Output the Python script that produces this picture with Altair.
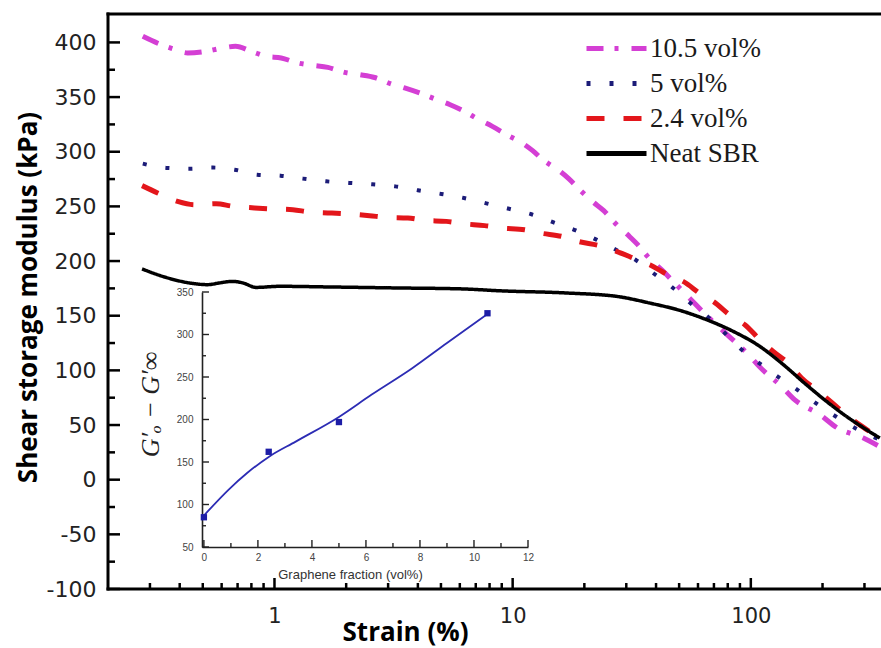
import altair as alt
import pandas as pd

# ---- main panel: shear storage modulus vs strain ----
SERIES = ["10.5 vol%", "5 vol%", "2.4 vol%", "Neat SBR"]
COLORS = ["#d43fd4", "#1c1c78", "#e3161b", "#000000"]
DASHES = [[17, 11, 4, 13], [4, 19], [18, 19], [1, 0]]
WIDTHS = [5, 4, 5, 3.5]

strain_105 = [0.280, 0.329, 0.374, 0.432, 0.516, 0.587, 0.686, 0.811, 0.923, 1.067,
              1.253, 1.440, 1.675, 1.968, 2.276, 2.632, 3.093, 3.517, 4.067, 4.779,
              5.436, 6.183, 7.218, 8.217, 9.437, 10.91, 12.13, 13.37, 15.46, 17.19,
              19.12, 21.68, 24.12, 26.83, 31.01, 33.51, 36.92, 42.27, 48.89, 56.51,
              65.33, 79.29, 97.14, 109.1, 134.9, 153.0, 195.0, 229.8, 295.5, 348.3]
g_105 = [405.6, 398.6, 394.3, 390.4, 391.9, 394.3, 396.4, 391.3, 387.3, 385.8,
         381.2, 379.1, 377.2, 372.6, 370.5, 367.9, 362.0, 358.4, 353.8, 347.8,
         343.2, 337.6, 329.4, 323.2, 315.6, 308.3, 301.0, 292.8, 283.6, 275.4,
         265.3, 254.3, 246.1, 235.1, 222.3, 215.0, 204.0, 192.0, 178.0, 164.0,
         150.0, 133.0, 115.0, 103.0, 85.0, 73.0, 59.5, 47.6, 38.4, 30.2]

strain_5 = [0.280, 0.351, 0.439, 0.551, 0.679, 0.846, 1.060, 1.315, 1.649, 2.052,
            2.573, 3.215, 4.000, 5.017, 6.243, 7.755, 9.650, 11.99, 14.77, 18.40,
            22.47, 27.28, 33.10, 39.51, 47.16, 55.4, 65.1, 75.5, 87.1, 99.0,
            112.6, 132.4, 158.0, 188.8, 229.2, 282.4, 342.7]
g_5 = [289.1, 285.2, 284.5, 285.5, 283.6, 279.0, 278.1, 275.4, 272.9, 271.5,
       270.2, 268.3, 264.7, 261.4, 257.7, 252.8, 247.8, 242.8, 235.6, 228.0,
       219.6, 210.1, 200.5, 187.9, 175.4, 162.0, 150.0, 137.0, 123.0, 113.0,
       104.0, 93.0, 81.7, 69.5, 57.4, 45.7, 37.2]

strain_24 = [0.278, 0.323, 0.392, 0.461, 0.569, 0.668, 0.824, 0.968, 1.194, 1.403,
             1.730, 2.032, 2.507, 2.947, 3.632, 4.268, 5.265, 6.183, 7.626, 8.966,
             11.23, 12.99, 16.27, 18.81, 23.21, 27.28, 33.10, 37.63, 45.68, 51.95,
             62.09, 69.44, 82.96, 94.36, 110.9, 124.1, 145.8, 163.3, 191.8, 214.8,
             256.4, 291.9, 348.3]
g_24 = [269.0, 262.3, 254.6, 251.6, 252.5, 250.1, 248.6, 247.7, 247.0, 244.9,
        244.0, 243.1, 241.5, 240.0, 239.4, 237.2, 236.3, 234.2, 232.4, 230.3,
        228.7, 225.7, 222.3, 218.0, 214.0, 208.8, 201.5, 196.7, 186.5, 181.4,
        169.3, 163.1, 149.4, 141.8, 126.5, 117.4, 105.2, 93.0, 81.0, 72.0,
        58.0, 49.0, 38.0]

strain_neat = [0.278, 0.339, 0.439, 0.524, 0.587, 0.668, 0.736, 0.838, 1.05, 1.70,
               3.25, 6.18, 8.82, 16.8, 27.3, 37.6, 51.9, 65.1, 84.3, 109.0,
               137.0, 171.0, 208.0, 252.0, 306.0, 348.0]
g_neat = [192.8, 186.0, 180.0, 178.4, 180.0, 181.4, 180.0, 175.9, 176.9, 176.3,
          175.4, 174.5, 172.8, 170.8, 167.7, 161.6, 154.0, 146.4, 135.7, 122.0,
          105.2, 86.9, 71.6, 57.9, 45.7, 38.1]

# axis ticks
Y_MAJOR = list(range(-100, 401, 50))
Y_MINOR = list(range(-75, 401, 50))
X_MAJOR = [1, 10, 100]
X_MINOR = [0.3, 0.4, 0.5, 0.6, 0.7, 0.8, 0.9, 2, 3, 4, 5, 6, 7, 8, 9,
           20, 30, 40, 50, 60, 70, 80, 90, 200, 300]

# ---- inset: G'0 - G'inf vs graphene fraction ----
frac_pts = [0, 2.4, 5, 10.5]
dg_pts = [85, 162, 197, 325]
frac_fit = [0, 0.9, 1.6, 2.4, 3.4, 5.0, 6.2, 7.7, 9.0, 10.5]
dg_fit = [87, 117, 137, 156, 174, 203, 229, 260, 290, 324]
IX_MAJOR = list(range(0, 13, 2))
IX_MINOR = list(range(1, 12, 2))
IY_MAJOR = list(range(50, 351, 50))
IY_MINOR = list(range(75, 351, 50))

W, H = 773, 575
X_DOMAIN = [0.2, 352]
Y_DOMAIN = [-100, 426]

frames = []
for name, xs_, ys_ in zip(SERIES, [strain_105, strain_5, strain_24, strain_neat],
                          [g_105, g_5, g_24, g_neat]):
    frames.append(pd.DataFrame({"series": name, "strain": xs_, "G": ys_}))
curves = pd.concat(frames, ignore_index=True)

xs = alt.Scale(type="log", domain=X_DOMAIN, nice=False)
ys = alt.Scale(domain=Y_DOMAIN, nice=False, zero=False)

x_axis = alt.Axis(
    orient="bottom", values=X_MAJOR, labelExpr="datum.value + ''", ticks=False,
    domain=False, grid=False,
    labelFont="DejaVu Sans", labelFontSize=21, labelColor="#222", labelPadding=16,
    labelOverlap=False, labelFlush=False,
    title="Strain (%)", titleFont="Open Sans", titleFontSize=26, titleFontWeight="bold",
    titleColor="#000", titleX=297, titleY=51, titleAlign="center", titleBaseline="alphabetic",
)
y_axis = alt.Axis(
    orient="left", values=Y_MAJOR, labelExpr="datum.value + ''", ticks=False,
    domain=False, grid=False,
    labelFont="DejaVu Sans", labelFontSize=22, labelColor="#222", labelPadding=12,
    labelOverlap=False, labelFlush=False,
    title="Shear storage modulus (kPa)", titleFont="Open Sans", titleFontSize=26,
    titleFontWeight="bold", titleColor="#000", titleAngle=270, titleX=-80, titleY=283,
    titleAlign="center", titleBaseline="middle",
)

legend = alt.Legend(
    title=None, orient="none", legendX=495, legendY=21, direction="vertical",
    symbolType="M-3,0H3", symbolSize=400, symbolStrokeWidth=5,
    labelFont="Liberation Serif", labelFontSize=27, labelColor="#1a1a1a",
    labelOffset=20, rowPadding=7, padding=0, labelLimit=300,
)
color = alt.Color("series:N", scale=alt.Scale(domain=SERIES, range=COLORS), legend=legend)
dash = alt.StrokeDash("series:N", scale=alt.Scale(domain=SERIES, range=DASHES), legend=legend)

layers = []
for i, (name, w) in enumerate(zip(SERIES, WIDTHS)):
    layers.append(
        alt.Chart(curves)
        .transform_filter(alt.datum.series == name)
        .mark_line(strokeWidth=w, interpolate="monotone", clip=True)
        .encode(
            x=alt.X("strain:Q", scale=xs, axis=x_axis if i == 0 else None),
            y=alt.Y("G:Q", scale=ys, axis=y_axis if i == 0 else None),
            color=color,
            strokeDash=dash,
        )
    )


def yticks(vals, length):
    return alt.Chart(pd.DataFrame({"yt": vals})).mark_rule(color="black", strokeWidth=2.5).encode(
        y=alt.Y("yt:Q", scale=ys, axis=None), x=alt.value(0), x2=alt.value(length))


def xticks(vals, length):
    return alt.Chart(pd.DataFrame({"xt": vals})).mark_rule(color="black", strokeWidth=2.5).encode(
        x=alt.X("xt:Q", scale=xs, axis=None), y=alt.value(H), y2=alt.value(H - length))


layers += [yticks(Y_MAJOR, 12), yticks(Y_MINOR, 7), xticks(X_MAJOR, 11), xticks(X_MINOR, 6)]

# plot frame: left, top and bottom edges
frame = alt.Chart(pd.DataFrame({"k": [0]}))
layers += [
    frame.mark_rule(color="black", strokeWidth=3, strokeCap="square").encode(
        x=alt.value(0), x2=alt.value(W + 5), y=alt.value(0)),
    frame.mark_rule(color="black", strokeWidth=3, strokeCap="square").encode(
        x=alt.value(0), y=alt.value(0), y2=alt.value(H)),
    frame.mark_rule(color="black", strokeWidth=3, strokeCap="square").encode(
        x=alt.value(0), x2=alt.value(W + 5), y=alt.value(H)),
]

# ---- inset panel ----
ixs = alt.Scale(domain=[-0.07, 12], range=[94, 420], nice=False, zero=False)
iys = alt.Scale(domain=[50, 350], range=[533, 278], nice=False, zero=False)

ix_axis = alt.Axis(
    orient="bottom", offset=-42, values=IX_MAJOR, ticks=False, domain=True,
    domainColor="#222", domainWidth=1.6, grid=False,
    labelFont="Liberation Sans", labelFontSize=10, labelColor="#444", labelPadding=5,
    labelFlush=False, labelOverlap=False,
    title="Graphene fraction (vol%)", titleFont="Liberation Sans", titleFontSize=13,
    titleFontWeight="normal", titleColor="#333", titleX=242, titleY=31,
    titleAlign="center", titleBaseline="alphabetic",
)
iy_axis = alt.Axis(
    orient="left", offset=-94, values=IY_MAJOR, ticks=False, domain=True,
    domainColor="#222", domainWidth=1.6, grid=False,
    labelFont="Liberation Sans", labelFontSize=10, labelColor="#444", labelPadding=9,
    labelFlush=False, labelOverlap=False,
    title="G′ₒ − G′∞", titleFont="Liberation Serif", titleFontStyle="italic",
    titleFontWeight="normal", titleFontSize=26, titleColor="#222", titleAngle=270,
    titleX=-52, titleY=390, titleAlign="center", titleBaseline="middle",
)

fit_df = pd.DataFrame({"frac": frac_fit, "dG": dg_fit})
pts_df = pd.DataFrame({"frac": frac_pts, "dG": dg_pts})

layers.append(
    alt.Chart(fit_df).mark_line(color="#2c2cb4", strokeWidth=1.8, interpolate="monotone").encode(
        x=alt.X("frac:Q", scale=ixs, axis=ix_axis),
        y=alt.Y("dG:Q", scale=iys, axis=iy_axis),
    )
)
layers.append(
    alt.Chart(pts_df).mark_square(size=40, color="#1d1da6", opacity=1).encode(
        x=alt.X("frac:Q", scale=ixs, axis=None),
        y=alt.Y("dG:Q", scale=iys, axis=None),
    )
)


def ixticks(vals, length):
    return alt.Chart(pd.DataFrame({"ixt": vals})).mark_rule(color="#222", strokeWidth=1.4).encode(
        x=alt.X("ixt:Q", scale=ixs, axis=None), y=alt.value(533), y2=alt.value(533 - length))


def iyticks(vals, length):
    return alt.Chart(pd.DataFrame({"iyt": vals})).mark_rule(color="#222", strokeWidth=1.4).encode(
        y=alt.Y("iyt:Q", scale=iys, axis=None), x=alt.value(94), x2=alt.value(94 + length))


layers += [ixticks(IX_MAJOR, 7), ixticks(IX_MINOR, 4), iyticks(IY_MAJOR, 7), iyticks(IY_MINOR, 4)]

chart = (
    alt.layer(*layers)
    .resolve_scale(x="independent", y="independent")
    .properties(
        width=W, height=H,
        autosize=alt.AutoSizeParams(type="none"),
        padding={"left": 108, "top": 14, "right": 0, "bottom": 59},
        background="white",
    )
    .configure_view(stroke=None)
)

chart.save("out.html", embed_options={"renderer": "svg", "actions": False})
